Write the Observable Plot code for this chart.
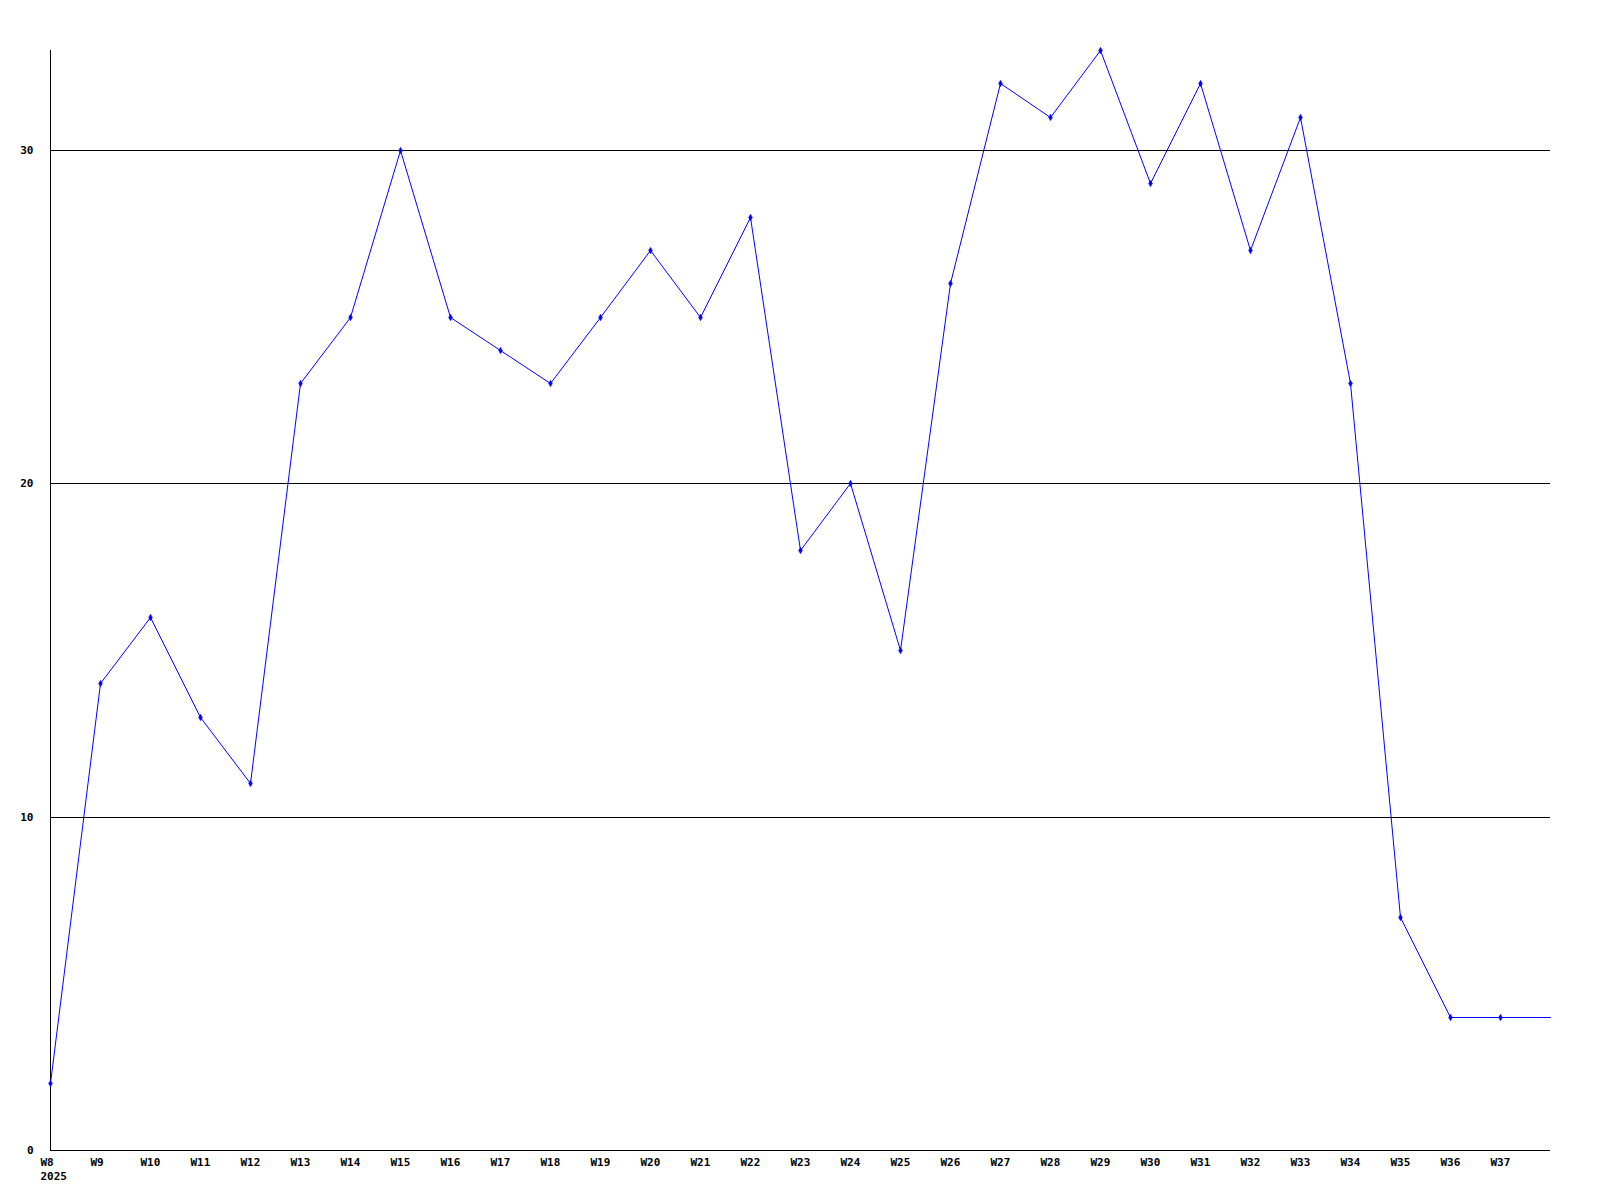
<!DOCTYPE html>
<html>
<head>
<meta charset="utf-8">
<script src="https://cdn.jsdelivr.net/npm/d3@7"></script>
<script src="https://cdn.jsdelivr.net/npm/@observablehq/plot@0.6"></script>
<style>
  html, body { margin: 0; padding: 0; background: #fff; }
  #chart svg { display: block; }
</style>
</head>
<body>
<div id="chart"></div>
<script>
const weeks = ["W8","W9","W10","W11","W12","W13","W14","W15","W16","W17","W18","W19","W20","W21","W22","W23","W24","W25","W26","W27","W28","W29","W30","W31","W32","W33","W34","W35","W36","W37","W38"];
const values = [2,14,16,13,11,23,25,30,25,24,23,25,27,25,28,18,20,15,26,32,31,33,29,32,27,31,23,7,4,4,4];
const yTicks = [0,10,20,30];
const gridLines = [10,20,30];
const yearLabel = "2025";

const data = weeks.map((w, i) => ({week: w, value: values[i]}));
const dotData = data.slice(0, data.length - 1);

const chart = Plot.plot({
  width: 1600,
  height: 1200,
  marginLeft: 50,
  marginRight: 50,
  marginTop: 50,
  marginBottom: 50,
  style: {fontFamily: "'DejaVu Sans Mono', monospace", fontSize: "11px", fontWeight: "bold", color: "#000", background: "#fff"},
  x: {type: "point", domain: weeks, padding: 0, label: null, round: true},
  y: {domain: [0, 33], label: null, round: true},
  marks: [
    Plot.ruleY(gridLines, {stroke: "#000", strokeWidth: 1, strokeOpacity: 1}),
    Plot.ruleY([0], {stroke: "#000", strokeWidth: 1}),
    Plot.ruleX([weeks[0]], {y1: 0, y2: 33, stroke: "#000", strokeWidth: 1}),
    Plot.axisY({ticks: yTicks, tickSize: 0, tickPadding: 17, tickFormat: d => String(d), fill: "#000"}),
    Plot.axisX({tickSize: 0, tickPadding: 5, fill: "#000", textAnchor: "start", dx: -10, lineHeight: 1.3,
      tickFormat: (d, i) => d === weeks[weeks.length - 1] ? "" : (i === 0 ? d + "\n" + yearLabel : d)}),
    Plot.line(data, {x: "week", y: "value", stroke: "#0000ff", strokeWidth: 1}),
    Plot.dot(dotData, {x: "week", y: "value", r: 2, fill: "#0000ff", stroke: "#0000ff", strokeWidth: 0.5, symbol: "diamond"})
  ]
});
document.getElementById("chart").appendChild(chart);
</script>
</body>
</html>
